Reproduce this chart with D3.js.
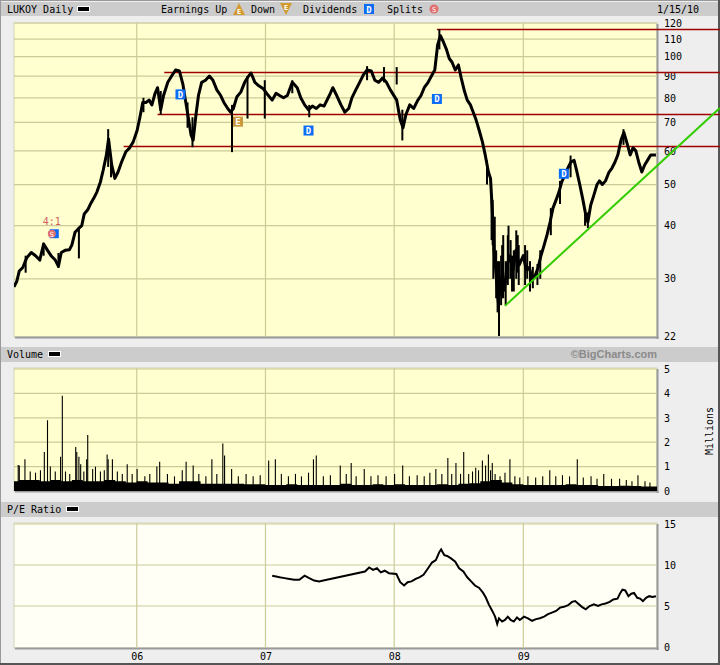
<!DOCTYPE html>
<html><head><meta charset="utf-8">
<script src="https://cdn.jsdelivr.net/npm/d3@7"></script>
<style>
body{margin:0;background:#EEEEEE;}
svg text{font-family:"DejaVu Sans Mono",monospace;font-size:10px;fill:#000;}
</style></head><body>
<svg id="c" width="720" height="665"></svg>
<script>
// ---------- DATA ----------
const priceSeries = [
["2005-01-18",28.7],["2005-01-26",29.6],["2005-02-02",31.3],["2005-02-12",31.9],["2005-02-23",33.6],["2005-03-08",34.6],["2005-03-20",34.0],["2005-04-01",33.2],["2005-04-12",36.2],["2005-04-25",34.8],["2005-05-03",34.0],["2005-05-15",33.2],["2005-05-24",32.1],["2005-06-01",34.6],["2005-06-12",35.0],["2005-06-24",35.1],["2005-07-01",36.0],["2005-07-10",38.6],["2005-07-19",39.3],["2005-07-29",40.0],["2005-08-05",42.6],["2005-08-15",43.6],["2005-08-24",45.2],["2005-09-01",46.4],["2005-09-10",48.0],["2005-09-20",50.7],["2005-09-28",54.1],["2005-10-07",58.7],["2005-10-13",64.0],["2005-10-22",55.6],["2005-10-31",51.7],["2005-11-09",53.5],["2005-11-19",56.5],["2005-12-01",59.7],["2005-12-12",61.0],["2005-12-22",63.0],
["2006-01-02",67.0],["2006-01-10",72.0],["2006-01-18",78.0],["2006-01-27",78.0],["2006-02-05",79.0],["2006-02-13",77.0],["2006-02-22",82.0],["2006-03-01",84.5],["2006-03-10",75.0],["2006-03-18",81.0],["2006-03-30",87.0],["2006-04-10",90.0],["2006-04-21",93.0],["2006-05-02",92.5],["2006-05-12",86.0],["2006-05-19",79.0],["2006-05-27",72.0],["2006-06-04",65.4],["2006-06-10",63.6],["2006-06-18",73.0],["2006-06-25",81.0],["2006-07-04",87.0],["2006-07-15",88.0],["2006-07-26",90.0],["2006-08-05",88.0],["2006-08-16",83.5],["2006-08-27",81.0],["2006-09-05",78.0],["2006-09-16",75.5],["2006-09-24",74.0],["2006-10-02",75.5],["2006-10-12",80.5],["2006-10-23",82.5],["2006-11-03",87.0],["2006-11-14",90.0],["2006-11-21",91.5],["2006-12-02",87.0],["2006-12-13",85.4],["2006-12-26",84.0],
["2007-01-08",81.2],["2007-01-20",79.0],["2007-01-31",82.0],["2007-02-10",81.0],["2007-02-21",80.0],["2007-03-04",81.0],["2007-03-18",87.0],["2007-04-01",84.5],["2007-04-11",80.0],["2007-04-22",77.0],["2007-05-03",75.0],["2007-05-14",76.5],["2007-05-25",75.5],["2007-06-05",77.0],["2007-06-16",76.5],["2007-07-01",81.0],["2007-07-11",84.5],["2007-07-22",81.0],["2007-08-03",77.0],["2007-08-14",74.0],["2007-08-25",75.5],["2007-09-03",80.0],["2007-09-14",83.5],["2007-09-25",87.0],["2007-10-05",90.5],["2007-10-16",93.0],["2007-10-28",92.5],["2007-11-07",88.0],["2007-11-18",87.0],["2007-11-29",89.0],["2007-12-10",87.0],["2007-12-21",83.5],
["2008-01-08",79.0],["2008-01-18",71.0],["2008-01-26",68.0],["2008-02-03",73.0],["2008-02-14",77.0],["2008-02-25",75.5],["2008-03-08",79.0],["2008-03-17",81.0],["2008-03-26",84.5],["2008-04-06",87.0],["2008-04-17",90.5],["2008-04-25",93.0],["2008-05-03",106.5],["2008-05-11",112.0],["2008-05-20",108.0],["2008-05-28",104.0],["2008-06-05",99.0],["2008-06-13",97.0],["2008-06-22",93.0],["2008-07-01",95.6],["2008-07-09",89.0],["2008-07-18",83.0],["2008-07-26",79.0],["2008-08-04",77.0],["2008-08-12",74.0],["2008-08-20",71.0],["2008-08-29",67.0],["2008-09-07",63.0],["2008-09-15",58.7],["2008-09-24",53.5],["2008-09-30",51.7],["2008-10-05",43.6],["2008-10-10",35.0],["2008-10-16",30.6],["2008-10-22",26.4],["2008-10-27",29.0],["2008-11-02",30.6],["2008-11-08",28.2],["2008-11-16",32.3],["2008-11-24",34.0],["2008-12-03",31.5],["2008-12-11",35.0],["2008-12-20",32.3],
["2009-01-01",34.0],["2009-01-09",31.5],["2009-01-18",31.9],["2009-01-26",30.0],["2009-02-04",30.6],["2009-02-12",31.9],["2009-02-20",34.0],["2009-03-01",36.0],["2009-03-09",38.0],["2009-03-18",40.8],["2009-03-26",44.0],["2009-04-04",46.0],["2009-04-12",48.0],["2009-04-20",50.7],["2009-04-29",52.7],["2009-05-07",54.6],["2009-05-16",56.5],["2009-05-25",57.0],["2009-06-01",54.0],["2009-06-10",50.0],["2009-06-19",46.0],["2009-06-27",42.4],["2009-07-03",40.8],["2009-07-11",44.7],["2009-07-20",47.2],["2009-07-29",50.0],["2009-08-05",51.0],["2009-08-13",50.0],["2009-08-22",51.0],["2009-09-01",53.5],["2009-09-09",54.6],["2009-09-18",56.5],["2009-09-26",58.7],["2009-10-05",63.6],["2009-10-13",66.3],["2009-10-21",63.0],["2009-10-31",58.7],["2009-11-08",61.0],["2009-11-16",60.0],["2009-11-24",56.5],["2009-12-03",53.5],["2009-12-11",55.6],["2009-12-19",57.0],["2009-12-28",58.7],["2010-01-12",58.7]
];
// [date, low, high] for visible long bars
const priceWicks = [
["2005-02-20",31,34],["2005-04-12",34,36.5],["2005-05-24",31.8,34.5],["2005-07-21",33.5,39.5],["2005-10-12",55,67.5],["2005-10-20",52,58],["2006-01-20",74,80],["2006-03-10",73,83],["2006-05-25",68,78],["2006-06-08",61.2,72],["2006-09-28",59.6,77],["2006-11-11",71.5,90],["2006-12-30",71.5,88],["2007-03-18",82,88],["2007-05-05",72,77],["2007-10-16",88,95],["2007-12-03",87,94.5],["2008-01-08",86,94.5],["2008-01-24",63.5,75],["2008-05-08",104,116],["2008-09-20",50,57],
["2008-10-03",37,47],["2008-10-06",36,46],["2008-10-08",30,40],["2008-10-12",32,42],["2008-10-16",27,35],["2008-10-20",25,33],["2008-10-24",22,33],["2008-10-30",26,34],["2008-11-02",27,36],["2008-11-05",27,38],["2008-11-12",26,33],["2008-11-18",29,38],["2008-11-20",30,40],["2008-11-26",30,37],["2008-11-30",28,34],["2008-12-05",28,35],["2008-12-12",30,39],["2008-12-16",31,38],["2008-12-19",29,36],["2009-01-06",29,36],["2009-01-12",30,35],["2009-01-20",28,33],["2009-01-28",28.5,32],["2009-02-10",29,32.5],["2009-02-18",30,35],["2009-03-20",38,44],["2009-04-15",45,51],["2009-05-15",52,58.5],["2009-06-25",40,44],["2009-07-03",39.5,43],["2009-10-12",62,67.5]
];
const priceTicks = [22,30,40,50,60,70,80,90,100,110,120];
// horizontal resistance / support lines [startDate, endDate, price]
const redLines = [["2008-05-01","2010-07-12",116],["2006-03-20","2010-07-12",92],["2006-03-01","2010-07-12",73.3],["2005-11-25","2010-07-12",61.6]];
const greenTrend = [["2008-11-10",25.9],["2010-07-12",75.7]];
const dividends = [["2006-05-05",81.5],["2007-05-03",67],["2008-05-01",79.5],["2009-04-26",53]];
const earnings = [["2006-10-15",70.3]];
const splits = [["2005-05-08",38.3,"4:1"]];

// volume, millions: monthly base level + individual spikes
const volumeBase = [
["2005-01-01",.4],["2005-02-01",.45],["2005-03-01",.45],["2005-04-01",.4],["2005-05-01",.45],["2005-06-01",.4],["2005-07-01",.45],["2005-08-01",.4],["2005-09-01",.4],["2005-10-01",.45],["2005-11-01",.4],["2005-12-01",.35],
["2006-01-01",.4],["2006-02-01",.35],["2006-03-01",.35],["2006-04-01",.3],["2006-05-01",.4],["2006-06-01",.4],["2006-07-01",.3],["2006-08-01",.3],["2006-09-01",.3],["2006-10-01",.3],["2006-11-01",.28],["2006-12-01",.28],
["2007-01-01",.25],["2007-02-01",.25],["2007-03-01",.28],["2007-04-01",.25],["2007-05-01",.25],["2007-06-01",.25],["2007-07-01",.25],["2007-08-01",.3],["2007-09-01",.25],["2007-10-01",.25],["2007-11-01",.28],["2007-12-01",.25],
["2008-01-01",.28],["2008-02-01",.25],["2008-03-01",.25],["2008-04-01",.25],["2008-05-01",.28],["2008-06-01",.25],["2008-07-01",.3],["2008-08-01",.32],["2008-09-01",.4],["2008-10-01",.45],["2008-11-01",.35],["2008-12-01",.28],
["2009-01-01",.25],["2009-02-01",.25],["2009-03-01",.25],["2009-04-01",.25],["2009-05-01",.28],["2009-06-01",.25],["2009-07-01",.25],["2009-08-01",.2],["2009-09-01",.2],["2009-10-01",.22],["2009-11-01",.2],["2009-12-01",.18],["2010-01-01",.18],["2010-02-01",.18]
];
const volumeSpikes = [
["2005-01-30",1.07],["2005-02-02",1.05],["2005-02-18",1.3],["2005-03-05",0.8],["2005-03-20",0.75],["2005-04-03",0.85],["2005-04-14",1.6],["2005-04-23",2.9],["2005-05-01",1.0],["2005-05-15",0.8],["2005-05-30",1.4],["2005-06-04",3.9],["2005-06-13",0.8],["2005-06-25",0.7],["2005-07-12",1.8],["2005-07-15",1.6],["2005-07-21",1.4],["2005-07-26",1.1],["2005-08-04",0.8],["2005-08-12",1.3],["2005-08-15",2.3],["2005-08-29",0.9],["2005-09-06",1.0],["2005-09-20",0.8],["2005-10-01",0.85],["2005-10-09",1.5],["2005-10-12",1.3],["2005-10-24",1.3],["2005-11-07",0.8],["2005-11-21",0.7],["2005-12-05",1.1],["2005-12-19",0.7],
["2006-01-02",0.9],["2006-01-24",0.6],["2006-02-07",0.7],["2006-02-27",1.0],["2006-03-07",1.2],["2006-03-29",0.7],["2006-04-18",0.6],["2006-05-10",0.85],["2006-05-21",1.2],["2006-06-10",1.05],["2006-06-26",0.7],["2006-07-16",0.6],["2006-08-02",1.3],["2006-08-16",0.7],["2006-09-02",1.95],["2006-09-07",1.45],["2006-09-27",0.9],["2006-10-16",0.6],["2006-11-07",0.7],["2006-11-27",0.6],["2006-12-17",0.65],
["2007-01-10",1.25],["2007-01-29",1.3],["2007-02-15",0.7],["2007-03-07",0.6],["2007-03-27",0.7],["2007-04-13",0.6],["2007-05-03",0.75],["2007-05-17",1.3],["2007-05-25",1.45],["2007-06-14",0.6],["2007-07-04",0.65],["2007-08-01",1.05],["2007-08-18",0.7],["2007-09-01",1.15],["2007-09-15",0.6],["2007-10-08",0.9],["2007-10-27",0.6],["2007-11-16",0.65],["2007-12-09",0.6],
["2008-01-02",0.7],["2008-01-25",1.05],["2008-02-13",0.6],["2008-03-06",0.65],["2008-03-26",0.6],["2008-04-11",0.75],["2008-04-28",0.9],["2008-05-15",0.7],["2008-06-01",1.35],["2008-06-12",0.7],["2008-06-24",1.15],["2008-07-07",0.7],["2008-07-16",1.6],["2008-07-30",0.7],["2008-08-10",0.8],["2008-08-19",0.95],["2008-08-27",0.85],["2008-09-07",1.25],["2008-09-16",1.05],["2008-09-24",1.5],["2008-09-30",0.85],["2008-10-05",1.15],["2008-10-13",0.7],["2008-10-27",0.6],["2008-11-10",0.75],["2008-11-24",1.3],["2008-12-08",0.6],["2008-12-22",0.55],
["2009-01-14",0.6],["2009-02-05",0.55],["2009-02-25",0.6],["2009-03-17",0.85],["2009-04-03",0.6],["2009-04-22",0.65],["2009-05-12",0.6],["2009-06-03",1.3],["2009-06-20",0.55],["2009-07-12",0.6],["2009-07-29",0.5],["2009-08-17",0.7],["2009-09-08",0.5],["2009-10-01",0.5],["2009-10-20",0.45],["2009-11-05",0.4],["2009-11-22",0.65],["2009-12-12",0.4],["2009-12-26",0.35]
];
const volumeTicks = [0,1,2,3,4,5];

const peSeries = [
["2007-01-20",8.7],["2007-01-31",8.6],["2007-02-10",8.5],["2007-02-24",8.4],["2007-03-10",8.3],["2007-03-24",8.2],["2007-04-07",8.2],["2007-04-22",8.7],["2007-05-05",8.4],["2007-05-19",8.1],["2007-06-02",8.0],["2007-06-14",8.1],
["2007-10-10",9.2],["2007-10-22",9.7],["2007-11-02",9.4],["2007-11-13",9.6],["2007-11-24",9.1],["2007-12-05",9.3],["2007-12-17",9.0],
["2008-01-07",8.9],["2008-01-18",7.9],["2008-01-29",7.5],["2008-02-08",7.9],["2008-02-19",8.0],["2008-03-02",8.3],["2008-03-12",8.5],["2008-03-24",8.8],["2008-04-06",9.6],["2008-04-17",10.3],["2008-04-28",10.6],["2008-05-08",11.6],["2008-05-13",11.9],["2008-05-22",11.2],["2008-05-30",11.1],["2008-06-10",10.8],["2008-06-22",10.4],["2008-07-03",9.6],["2008-07-15",9.2],["2008-07-26",8.5],["2008-08-06",8.0],["2008-08-17",7.5],["2008-08-29",7.2],["2008-09-09",6.6],["2008-09-17",6.0],["2008-09-25",5.2],["2008-10-05",4.4],["2008-10-13",3.7],["2008-10-19",2.8],["2008-10-24",3.5],["2008-11-02",3.1],["2008-11-10",3.3],["2008-11-18",3.7],["2008-11-26",3.3],["2008-12-05",3.1],["2008-12-14",3.6],["2008-12-22",3.3],
["2009-01-03",3.7],["2009-01-14",3.5],["2009-01-26",3.2],["2009-02-06",3.4],["2009-02-17",3.5],["2009-03-01",3.7],["2009-03-12",4.0],["2009-03-23",4.2],["2009-04-04",4.4],["2009-04-15",4.8],["2009-04-26",4.9],["2009-05-08",5.1],["2009-05-19",5.5],["2009-05-28",5.6],["2009-06-05",5.3],["2009-06-16",4.9],["2009-06-27",4.6],["2009-07-08",5.0],["2009-07-20",5.2],["2009-08-01",5.0],["2009-08-11",5.2],["2009-08-22",5.3],["2009-09-03",5.5],["2009-09-13",5.8],["2009-09-25",5.9],["2009-10-03",6.6],["2009-10-09",7.0],["2009-10-17",6.9],["2009-10-26",6.2],["2009-11-03",6.5],["2009-11-11",6.6],["2009-11-20",6.0],["2009-11-28",5.9],["2009-12-06",5.6],["2009-12-15",6.0],["2009-12-24",6.2],["2010-01-02",6.1],["2010-01-12",6.2]
];
const peTicks = [0,5,10,15];
const yearTicks = ["2006-01-01","2007-01-01","2008-01-01","2009-01-01"];
const dateRange = ["2005-01-18","2010-01-15"];

// ---------- CHART ----------
const svg = d3.select("#c");
const P = d3.utcParse("%Y-%m-%d");
const L = 14, R = 657;
const x = d3.scaleUtc().domain(dateRange.map(P)).range([L, R]);
const price = {top:23, bottom:337};
const vol = {top:368, bottom:491};
const pe = {top:523, bottom:648};
const yP = d3.scaleLog().domain([22,120]).range([336,23]);
const yV = d3.scaleLinear().domain([0,5]).range([491,369]);
const yE = d3.scaleLinear().domain([0,15]).range([647,524]);
const grid = "#CCCC99";

// outer frame
svg.append("rect").attr("x",0.5).attr("y",0.5).attr("width",718).attr("height",663).attr("fill","#EEEEEE").attr("stroke","#999");
svg.append("line").attr("x1",719).attr("x2",719).attr("y1",0).attr("y2",665).attr("stroke","#555").attr("stroke-width",2);
svg.append("line").attr("x1",0).attr("x2",720).attr("y1",664).attr("y2",664).attr("stroke","#555").attr("stroke-width",2);

function headerBar(y, h){
  svg.append("rect").attr("x",1).attr("y",y).attr("width",717).attr("height",h).attr("fill","#CCCCCC");
}
function swatch(x0, y0){
  svg.append("rect").attr("x",x0).attr("y",y0).attr("width",13).attr("height",6).attr("fill","#fff");
  svg.append("rect").attr("x",x0+1).attr("y",y0+1).attr("width",11).attr("height",4).attr("fill","#000");
}
headerBar(2,14); headerBar(347,15); headerBar(502,15);

function panel(p, fill){
  svg.append("rect").attr("x",L).attr("y",p.top).attr("width",R-L).attr("height",p.bottom-p.top)
    .attr("fill",fill).attr("stroke","#D4D4B8").attr("stroke-width",1);
  svg.append("line").attr("x1",R+0.5).attr("x2",R+0.5).attr("y1",p.top+1).attr("y2",p.bottom+2).attr("stroke","#999").attr("stroke-width",2);
  svg.append("line").attr("x1",L+1).attr("x2",R+1.5).attr("y1",p.bottom+0.5).attr("y2",p.bottom+0.5).attr("stroke","#999").attr("stroke-width",2);
  yearTicks.forEach(d=>{
    svg.append("line").attr("x1",x(P(d))).attr("x2",x(P(d))).attr("y1",p.top).attr("y2",p.bottom).attr("stroke",grid).attr("stroke-width",1.2);
  });
}
panel(price,"#FFFFCF"); panel(vol,"#FFFFCF"); panel(pe,"#FFFFF6");

// horizontal grids
priceTicks.slice(1).forEach(v=>svg.append("line").attr("x1",L).attr("x2",R).attr("y1",yP(v)).attr("y2",yP(v)).attr("stroke",grid).attr("stroke-width",1.2));
volumeTicks.slice(1).forEach(v=>svg.append("line").attr("x1",L).attr("x2",R).attr("y1",yV(v)).attr("y2",yV(v)).attr("stroke",grid).attr("stroke-width",1.2));
peTicks.slice(1).forEach(v=>svg.append("line").attr("x1",L).attr("x2",R).attr("y1",yE(v)).attr("y2",yE(v)).attr("stroke",grid).attr("stroke-width",1.2));

// right axes
function rightAxis(scale, ticks, fmt){
  const g = svg.append("g").attr("transform",`translate(${R},0)`)
    .call(d3.axisRight(scale).tickValues(ticks).tickSize(0).tickPadding(7).tickFormat(fmt));
  g.select(".domain").remove();
  g.selectAll("text").attr("font-family","DejaVu Sans Mono").attr("font-size",10).attr("fill","#000");
}
rightAxis(yP, priceTicks, d3.format("d"));
rightAxis(yV, volumeTicks, d3.format("d"));
rightAxis(yE, peTicks, d3.format("d"));
const xa = svg.append("g").attr("transform",`translate(0,${pe.bottom})`)
  .call(d3.axisBottom(x).tickValues(yearTicks.map(P)).tickSize(0).tickPadding(5).tickFormat(d3.utcFormat("%y")));
xa.select(".domain").remove();
xa.selectAll("text").attr("font-family","DejaVu Sans Mono").attr("font-size",10).attr("fill","#000");

svg.append("text").attr("transform","translate(713,431) rotate(-90)").attr("text-anchor","middle").text("Millions");

// clip for data
const defs = svg.append("defs");
[["cp",price],["cv",vol],["ce",pe]].forEach(([id,p])=>{
  defs.append("clipPath").attr("id",id).append("rect").attr("x",L).attr("y",p.top).attr("width",R-L).attr("height",p.bottom-p.top);
});

// red support/resistance lines
redLines.forEach(([a,b,v])=>{
  svg.append("line").attr("x1",x(P(a))).attr("x2",x(P(b))).attr("y1",Math.round(yP(v))+0.5).attr("y2",Math.round(yP(v))+0.5)
    .attr("stroke","#A00000").attr("stroke-width",1.3);
});

// price
const gp = svg.append("g").attr("clip-path","url(#cp)");
gp.selectAll("line.w").data(priceWicks).join("line")
  .attr("x1",d=>x(P(d[0]))).attr("x2",d=>x(P(d[0])))
  .attr("y1",d=>yP(d[1])).attr("y2",d=>yP(d[2])).attr("stroke","#000").attr("stroke-width",2);
gp.append("path").datum(priceSeries)
  .attr("d",d3.line().x(d=>x(P(d[0]))).y(d=>yP(d[1])))
  .attr("fill","none").attr("stroke","#000").attr("stroke-width",3).attr("stroke-linejoin","round");

// green trend line
svg.append("line").attr("x1",x(P(greenTrend[0][0]))).attr("y1",yP(greenTrend[0][1]))
  .attr("x2",x(P(greenTrend[1][0]))).attr("y2",yP(greenTrend[1][1]))
  .attr("stroke","#33CC00").attr("stroke-width",2);

// markers
function dBox(cx, cy, fill, letter){
  svg.append("rect").attr("x",cx-5).attr("y",cy-5).attr("width",10).attr("height",10).attr("fill",fill);
  svg.append("text").attr("x",cx).attr("y",cy+3.5).attr("text-anchor","middle").style("fill","#fff").style("font-size","9px").style("font-weight","bold").text(letter);
}
dividends.forEach(([d,v])=>dBox(x(P(d)), yP(v), "#0A6CF5", "D"));
earnings.forEach(([d,v])=>dBox(x(P(d)), yP(v), "#C8963C", "E"));
splits.forEach(([d,v,t])=>{
  const cx = x(P(d)), cy = yP(v);
  svg.append("rect").attr("x",cx-3).attr("y",cy-4.5).attr("width",9).attr("height",9).attr("fill","#0A6CF5");
  svg.append("circle").attr("cx",cx-1).attr("cy",cy).attr("r",4).attr("fill","#E07070");
  svg.append("text").attr("x",cx-1).attr("y",cy+3).attr("text-anchor","middle").style("fill","#fff").style("font-size","7px").text("S");
  svg.append("text").attr("x",cx-1).attr("y",cy-9).attr("text-anchor","middle").style("fill","#D06060").text(t);
});

// volume
const gv = svg.append("g").attr("clip-path","url(#cv)");
gv.append("path").datum(volumeBase)
  .attr("d",d3.area().curve(d3.curveStepAfter).x(d=>x(P(d[0]))).y0(yV(0)).y1(d=>yV(d[1])))
  .attr("fill","#000");
gv.selectAll("line.s").data(volumeSpikes).join("line")
  .attr("x1",d=>x(P(d[0]))).attr("x2",d=>x(P(d[0])))
  .attr("y1",yV(0)).attr("y2",d=>yV(d[1])).attr("stroke","#000").attr("stroke-width",1.1);

// P/E
svg.append("g").attr("clip-path","url(#ce)").append("path").datum(peSeries)
  .attr("d",d3.line().x(d=>x(P(d[0]))).y(d=>yE(d[1])))
  .attr("fill","none").attr("stroke","#000").attr("stroke-width",2);

// header texts
svg.append("text").attr("x",7).attr("y",13).text("LUKOY Daily");
swatch(77,6);
svg.append("text").attr("x",161).attr("y",13).text("Earnings Up");
svg.append("path").attr("d","M239,3 L245,15 L233,15 Z").attr("fill","#D29A2E");
svg.append("text").attr("x",239).attr("y",14).attr("text-anchor","middle").style("fill","#fff").style("font-size","7px").style("font-weight","bold").text("E");
svg.append("text").attr("x",251).attr("y",13).text("Down");
svg.append("path").attr("d","M280,3 L292,3 L286,15 Z").attr("fill","#D29A2E");
svg.append("text").attr("x",286).attr("y",10).attr("text-anchor","middle").style("fill","#fff").style("font-size","7px").style("font-weight","bold").text("E");
svg.append("text").attr("x",303).attr("y",13).text("Dividends");
svg.append("rect").attr("x",364).attr("y",4).attr("width",10).attr("height",10).attr("fill","#0A6CF5");
svg.append("text").attr("x",369).attr("y",12.5).attr("text-anchor","middle").style("fill","#fff").style("font-size","9px").style("font-weight","bold").text("D");
svg.append("text").attr("x",387).attr("y",13).text("Splits");
svg.append("circle").attr("cx",434).attr("cy",9).attr("r",4.5).attr("fill","#E07070");
svg.append("text").attr("x",434).attr("y",12).attr("text-anchor","middle").style("fill","#fff").style("font-size","7px").text("S");
svg.append("text").attr("x",657).attr("y",13).text("1/15/10");

svg.append("text").attr("x",7).attr("y",358).text("Volume");
swatch(48,351);
svg.append("text").attr("x",657).attr("y",358).attr("text-anchor","end")
  .style("font-family","Liberation Sans, Arial, sans-serif").style("font-size","11px").style("font-weight","bold").style("fill","#8a8a8a").text("©BigCharts.com");
svg.append("text").attr("x",7).attr("y",513).text("P/E Ratio");
swatch(66,506);
</script>
</body></html>
